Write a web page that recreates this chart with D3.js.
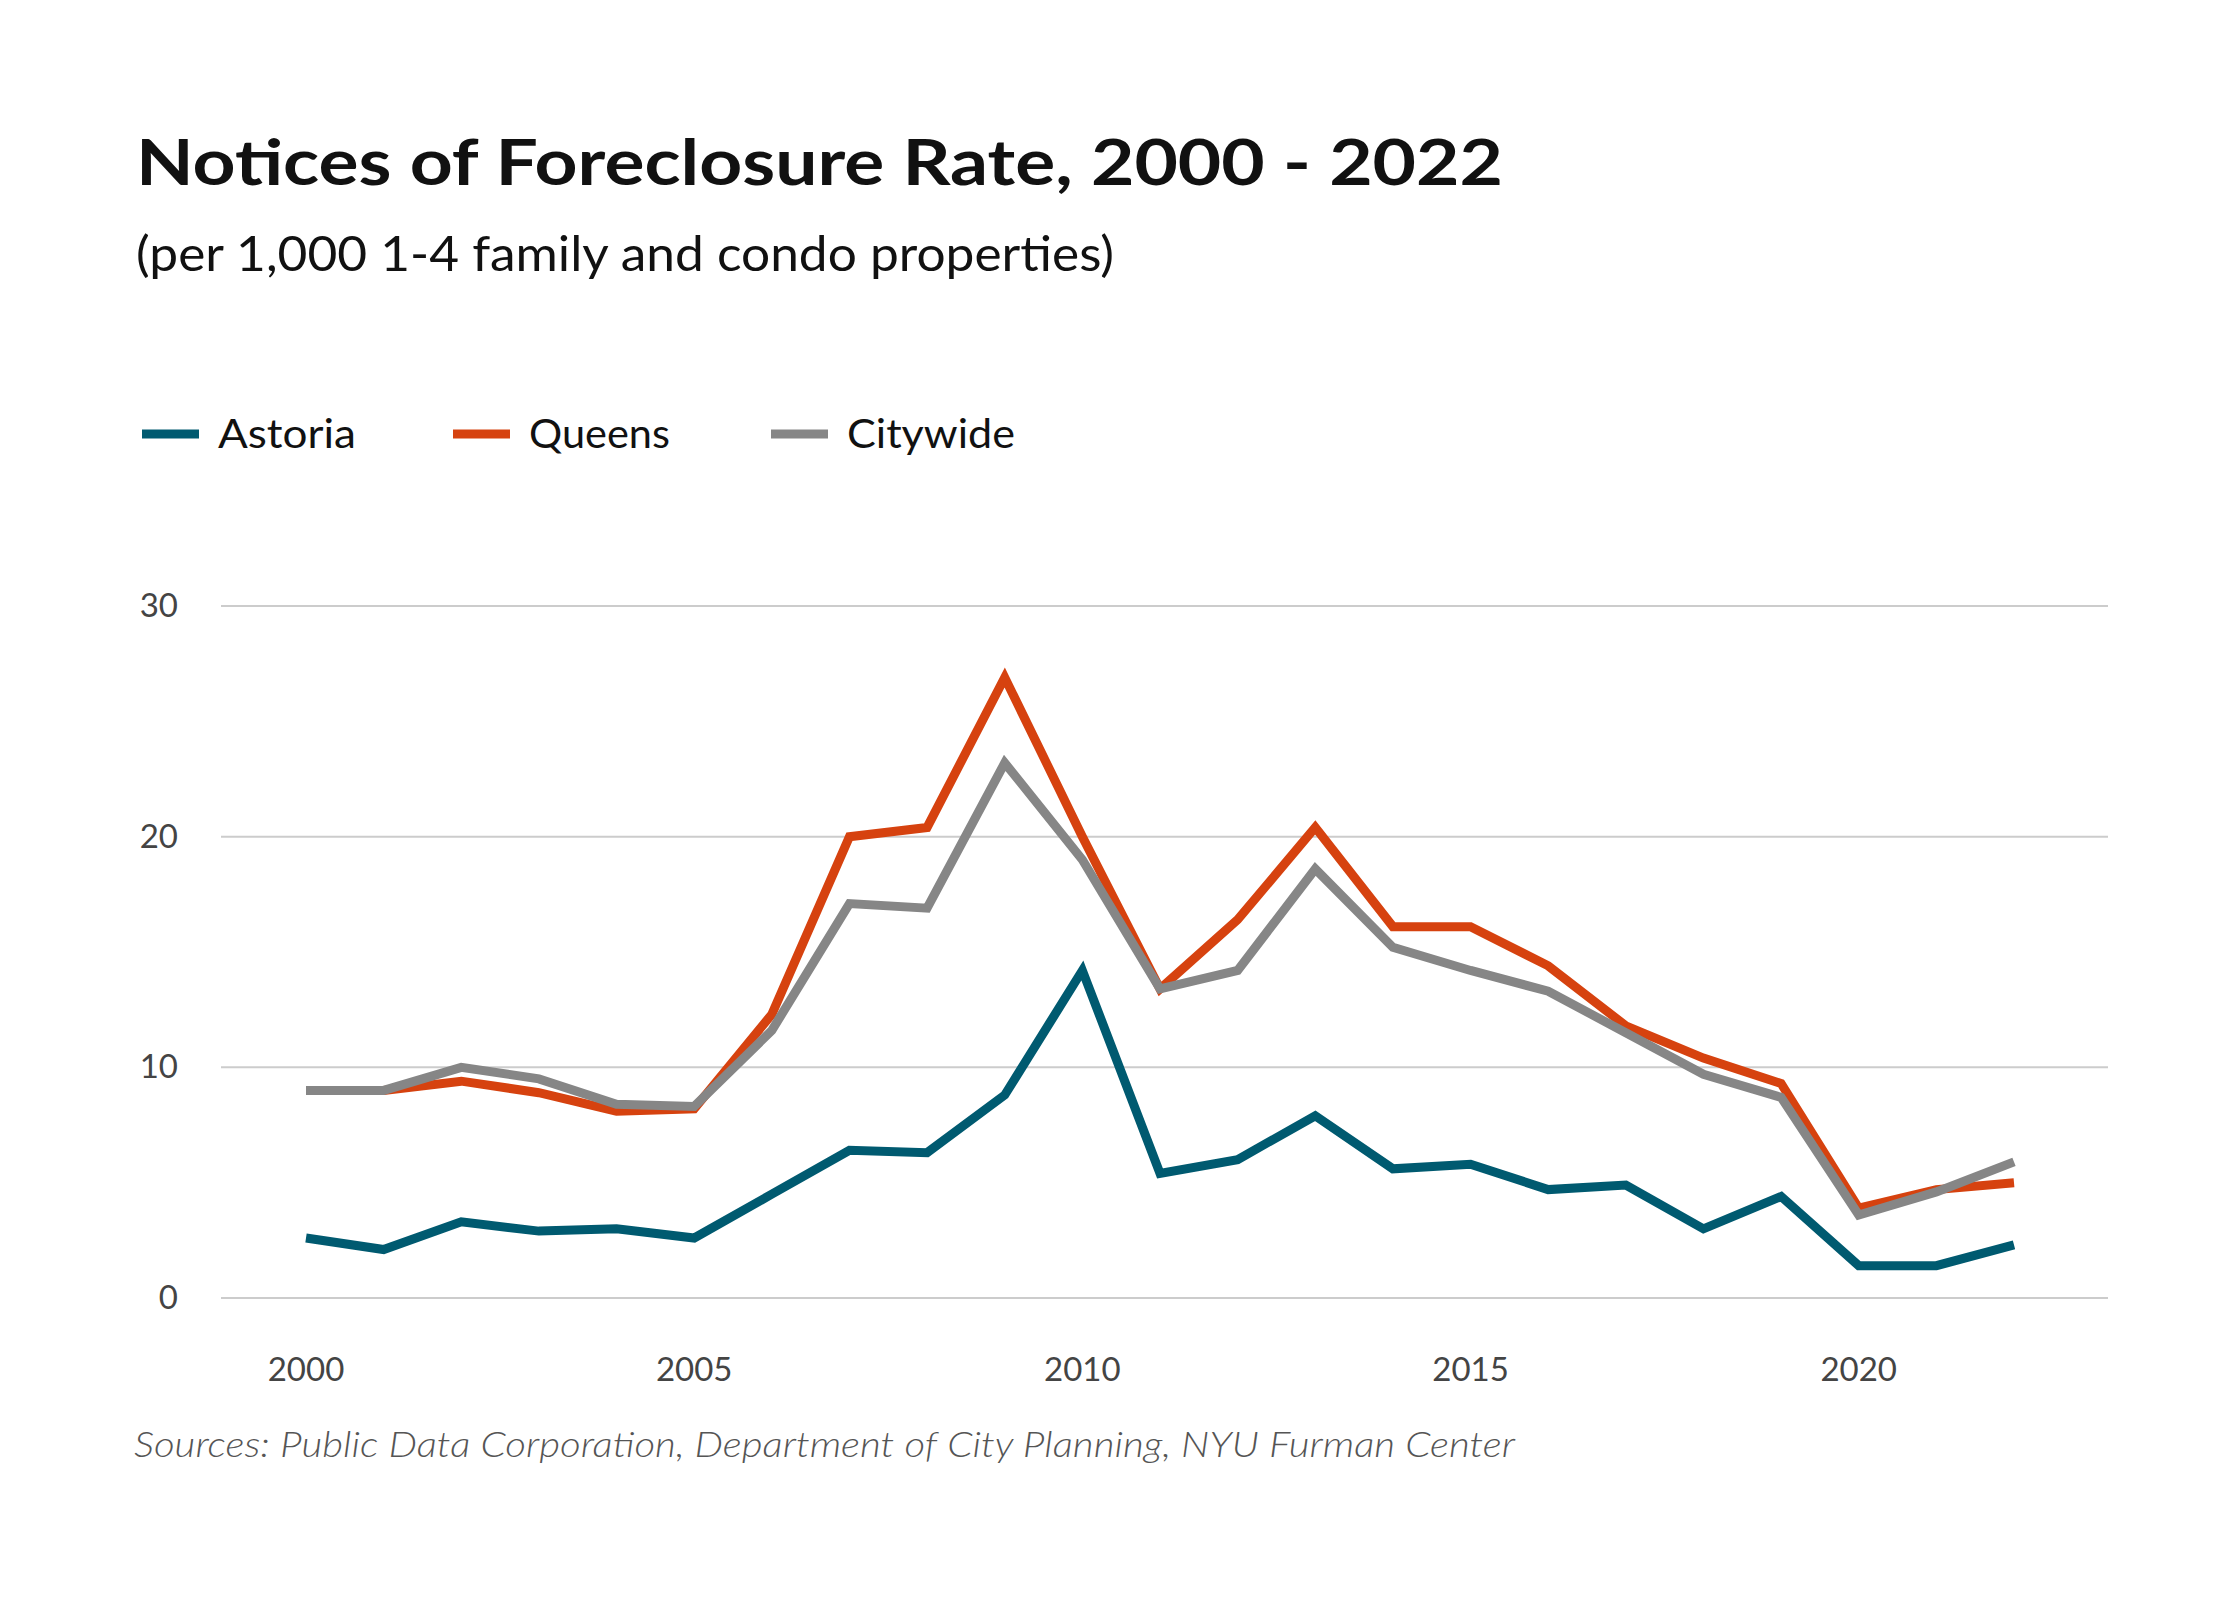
<!DOCTYPE html>
<html><head><meta charset="utf-8">
<script src="https://cdn.jsdelivr.net/npm/d3@7"></script>
<style>body{margin:0;background:#fff}text{font-family:Lato,"Open Sans",sans-serif}</style>
</head><body><svg id="chart" width="2240" height="1600"></svg>
<script>
const years = d3.range(2000, 2023);
const astoria = [2.6,2.1,3.3,2.9,3.0,2.6,4.5,6.4,6.3,8.8,14.2,5.4,6.0,7.9,5.6,5.8,4.7,4.9,3.0,4.4,1.4,1.4,2.3];
const queens = [9.0,9.0,9.4,8.9,8.1,8.2,12.3,20.0,20.4,26.9,20.0,13.4,16.4,20.4,16.1,16.1,14.4,11.8,10.4,9.3,3.9,4.7,5.0];
const citywide = [9.0,9.0,10.0,9.5,8.4,8.3,11.6,17.1,16.9,23.2,19.0,13.4,14.2,18.6,15.2,14.2,13.3,11.5,9.7,8.7,3.6,4.6,5.9];
const yTicks = [0,10,20,30];
const xTicks = [2000,2005,2010,2015,2020];
const series = [
  {name:"Astoria", values:astoria, color:"#005a70"},
  {name:"Queens", values:queens, color:"#d6420f"},
  {name:"Citywide", values:citywide, color:"#868686"}
];

const svg = d3.select("#chart");
svg.append("text").attr("x",136).attr("y",185).attr("font-size",64).attr("font-weight",700)
  .attr("fill","#111").attr("textLength",1367).attr("lengthAdjust","spacingAndGlyphs")
  .text("Notices of Foreclosure Rate, 2000 - 2022");
svg.append("text").attr("x",136).attr("y",271).attr("font-size",48).attr("fill","#111")
  .attr("textLength",978).attr("lengthAdjust","spacingAndGlyphs")
  .text("(per 1,000 1-4 family and condo properties)");

// legend
const legX = [142,453,771];
const legW = [138,141,168];
series.forEach((s,i)=>{
  svg.append("line").attr("x1",legX[i]).attr("x2",legX[i]+57).attr("y1",434).attr("y2",434)
    .attr("stroke",s.color).attr("stroke-width",9);
  svg.append("text").attr("x",legX[i]+76).attr("y",448).attr("font-size",41).attr("fill","#111")
    .attr("textLength",legW[i]).attr("lengthAdjust","spacingAndGlyphs").text(s.name);
});

const x = d3.scaleLinear().domain([2000,2022]).range([306,2014]);
const y = d3.scaleLinear().domain([0,30]).range([1298,606]);

svg.append("g").selectAll("line").data(yTicks).join("line")
  .attr("x1",221).attr("x2",2108).attr("y1",d=>y(d)).attr("y2",d=>y(d))
  .attr("stroke","#cccccc").attr("stroke-width",2);
svg.append("g").selectAll("text").data(yTicks).join("text")
  .attr("x",178).attr("y",d=>y(d)+11).attr("text-anchor","end").attr("font-size",33)
  .attr("fill","#444").text(d=>d);
svg.append("g").selectAll("text").data(xTicks).join("text")
  .attr("x",d=>x(d)).attr("y",1381).attr("text-anchor","middle").attr("font-size",33)
  .attr("fill","#444").text(d=>d);

const line = d3.line().x((d,i)=>x(years[i])).y(d=>y(d));
[series[0],series[1],series[2]].forEach(s=>{
  svg.append("path").attr("d",line(s.values)).attr("fill","none")
    .attr("stroke",s.color).attr("stroke-width",9).attr("stroke-linejoin","miter");
});

svg.append("text").attr("x",134).attr("y",1457).attr("font-size",36).attr("font-style","italic")
  .attr("font-weight",300).attr("fill","#555")
  .attr("textLength",1381).attr("lengthAdjust","spacingAndGlyphs")
  .text("Sources: Public Data Corporation, Department of City Planning, NYU Furman Center");
</script></body></html>
